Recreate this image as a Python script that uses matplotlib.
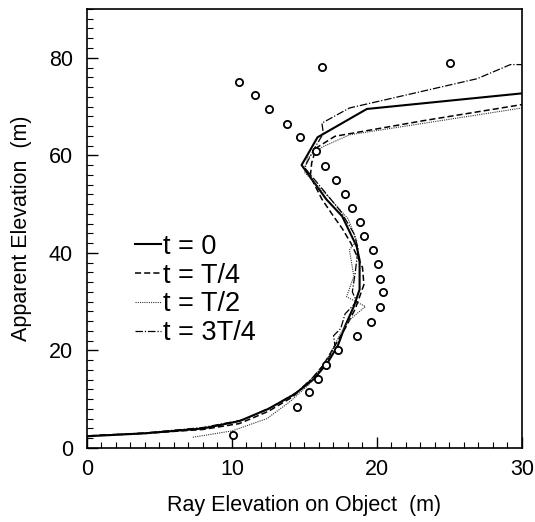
import matplotlib
matplotlib.use("Agg")
import matplotlib.pyplot as plt
from matplotlib.ticker import MultipleLocator

plt.rcParams['font.family'] = ['Liberation Sans', 'DejaVu Sans']

# observed points (circles)
obs_x = [10.5, 11.6, 12.55, 13.8, 14.7, 15.8, 16.4, 17.2, 17.8, 18.3, 18.8, 19.1, 19.7,
         20.1, 20.2, 20.4, 20.2, 19.6, 18.6, 17.3, 16.5, 15.9, 15.3, 14.5, 10.1, 16.2, 25.05]
obs_y = [75.1, 72.3, 69.5, 66.5, 63.7, 60.8, 57.8, 54.9, 52.1, 49.2, 46.3, 43.4, 40.5,
         37.7, 34.7, 31.9, 28.9, 25.9, 23.0, 20.1, 17.1, 14.2, 11.4, 8.4, 2.6, 78.2, 79.0]

# t = 0
t0_x = [0.0, 4.0, 8.0, 10.5, 12.5, 14.3, 15.6, 16.6, 17.3, 17.8, 18.4, 18.8, 18.8, 18.6,
        17.6, 16.5, 14.8, 15.9, 19.3, 30.0]
t0_y = [2.4, 3.0, 4.0, 5.5, 8.0, 11.0, 14.0, 17.5, 21.0, 25.0, 29.0, 32.5, 38.5, 41.3,
        47.5, 51.0, 58.0, 63.7, 69.5, 72.7]

# t = T/4
t1_x = [0.2, 4.0, 8.0, 10.5, 12.5, 14.2, 15.4, 16.3, 17.0, 17.8, 18.5, 19.1, 19.0, 18.2,
        17.6, 17.0, 16.2, 15.4, 15.5, 15.8, 17.1, 23.2, 30.0]
t1_y = [2.5, 3.0, 3.8, 5.0, 7.5, 10.5, 13.8, 17.0, 20.5, 24.5, 28.5, 33.5, 37.0, 42.0,
        45.0, 47.5, 51.0, 55.7, 58.5, 61.5, 63.9, 67.1, 70.4]

# t = T/2
t2_x = [7.3, 10.0, 12.4, 14.0, 15.3, 16.2, 16.9, 17.4, 18.0, 19.2, 17.9, 18.4, 18.1, 18.6,
        18.0, 16.8, 15.0, 15.2, 16.3, 18.1, 30.0]
t2_y = [2.2, 3.5, 6.0, 9.5, 13.0, 16.5, 20.0, 23.0, 26.0, 29.0, 31.0, 35.2, 40.6, 42.5,
        47.0, 51.0, 56.5, 59.5, 61.8, 64.2, 69.7]

# t = 3T/4
t3_x = [0.0, 4.0, 8.0, 10.8, 12.8, 14.5, 15.7, 16.6, 17.1, 17.0, 17.5, 17.8, 18.6, 18.3,
        18.5, 18.7, 18.4, 17.5, 16.4, 15.0, 15.6, 16.3, 16.2, 18.1, 26.9, 29.2, 30.0]
t3_y = [2.5, 3.1, 4.2, 5.8, 8.5, 11.5, 14.8, 18.0, 21.0, 23.0, 24.5, 27.5, 30.0, 32.0,
        36.0, 41.0, 44.0, 48.5, 52.5, 57.5, 61.0, 64.5, 66.6, 69.7, 75.7, 78.6, 78.6]

labels = ['t = 0', 't = T/4', 't = T/2', 't = 3T/4']

fig = plt.figure(figsize=(5.35, 5.22), dpi=100)
ax = fig.add_axes([0.1626, 0.1418, 0.8131, 0.841])

ax.plot(t0_x, t0_y, color='black', lw=1.5, ls='-', label=labels[0])
ax.plot(t1_x, t1_y, color='black', lw=1.1, ls=(0, (4, 2)), label=labels[1])
ax.plot(t2_x, t2_y, color='#333333', lw=0.8, ls=(0, (1, 1)), label=labels[2])
ax.plot(t3_x, t3_y, color='black', lw=0.9, ls=(0, (6, 1.5, 1, 1.5)), label=labels[3])
ax.plot(obs_x, obs_y, ls='none', marker='o', ms=5.2, mfc='white', mec='black', mew=1.3)

ax.set_xlim(0, 30)
ax.set_ylim(0, 90)
ax.xaxis.set_major_locator(MultipleLocator(10))
ax.xaxis.set_minor_locator(MultipleLocator(1))
ax.yaxis.set_major_locator(MultipleLocator(20))
ax.yaxis.set_minor_locator(MultipleLocator(2))
ax.tick_params(which='both', direction='in', top=False, right=False, labelsize=15.5)
ax.tick_params(which='major', length=8, width=1)
ax.tick_params(which='minor', length=4, width=0.8)
ax.tick_params(axis='x', which='major', pad=8)
ax.tick_params(axis='y', which='major', pad=10)
for s in ax.spines.values():
    s.set_linewidth(1.2)

ax.set_xlabel('Ray Elevation on Object  (m)', fontsize=15.5, labelpad=11)
ax.set_ylabel('Apparent Elevation  (m)', fontsize=15.5, labelpad=12)

leg = ax.legend(loc='center left', bbox_to_anchor=(0.11, 0.36), frameon=False,
                fontsize=19.5, handlelength=0.95, handletextpad=0.1, labelspacing=0.1,
                borderpad=0, borderaxespad=0)

fig.savefig('out.png', dpi=100)
